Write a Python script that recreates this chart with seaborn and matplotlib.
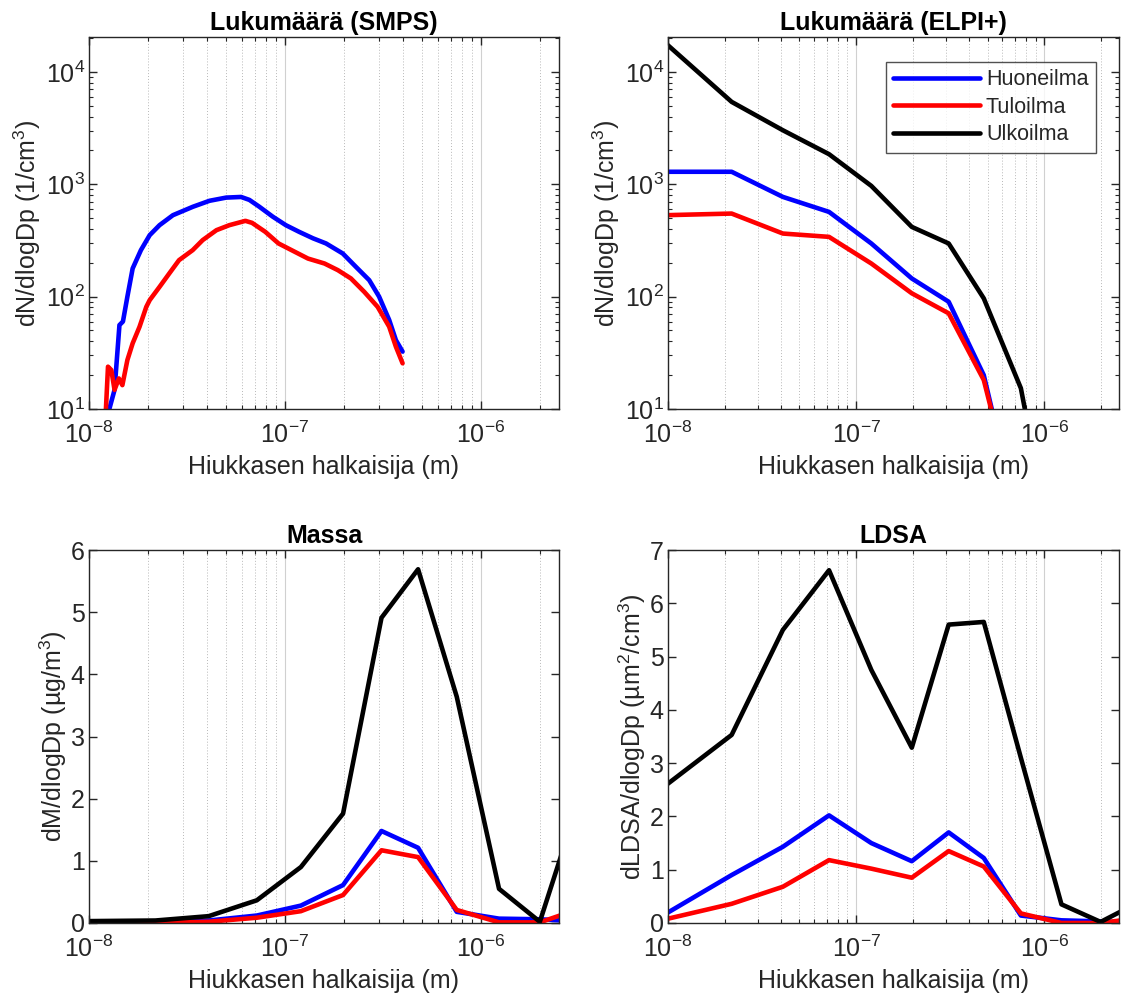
import numpy as np
import pandas as pd
import matplotlib
matplotlib.use("Agg")
import matplotlib.pyplot as plt
import seaborn as sns
from matplotlib.ticker import LogLocator, LogFormatterMathtext, NullFormatter

# ---------------- data ----------------
# SMPS (top-left), diameters in metres
smps_x_blue = [1.27e-8, 1.35e-8, 1.43e-8, 1.49e-8, 1.57e-8, 1.67e-8, 1.84e-8, 2.04e-8, 2.29e-8, 2.68e-8,
               3.39e-8, 4.12e-8, 5.01e-8, 5.97e-8, 6.58e-8, 7.40e-8, 8.65e-8, 1.01e-7, 1.18e-7, 1.39e-7,
               1.62e-7, 1.97e-7, 2.30e-7, 2.69e-7, 3.02e-7, 3.40e-7, 3.68e-7, 3.98e-7]
smps_y_blue = [10, 14.8, 55.8, 60, 100, 178, 259, 352, 432, 530,
               630, 712, 760, 770, 725, 630, 515, 432, 377, 330,
               297, 242, 184, 140, 100, 62, 41, 32.4]
smps_x_red = [1.22e-8, 1.25e-8, 1.30e-8, 1.35e-8, 1.42e-8, 1.48e-8, 1.57e-8, 1.67e-8, 1.81e-8, 1.96e-8,
              2.04e-8, 2.29e-8, 2.57e-8, 2.88e-8, 3.38e-8, 3.80e-8, 4.47e-8, 5.20e-8, 6.28e-8, 6.79e-8,
              7.93e-8, 9.27e-8, 1.08e-7, 1.31e-7, 1.59e-7, 1.86e-7, 2.17e-7, 2.54e-7, 2.97e-7, 3.40e-7,
              3.68e-7, 3.98e-7]
smps_y_red = [10, 23.8, 22.2, 14.8, 18.7, 16.3, 27.3, 38.4, 53.8, 81,
              93, 122, 161, 211, 259, 318, 390, 432, 472, 453,
              377, 297, 259, 218, 197, 172, 145, 110, 81, 54,
              35.8, 25.5]

# ELPI+ stage midpoints (m)
elpi_x = [9.7e-9, 2.18e-8, 4.08e-8, 7.18e-8, 1.205e-7, 1.978e-7, 3.107e-7, 4.775e-7,
          7.52e-7, 1.236e-6, 1.996e-6, 2.992e-6]

num_huone = [1290, 1290, 771, 567, 297, 145, 90, 20, 0.8, 0.3, 0.2, 0.2]
num_tulo = [530, 548, 364, 340, 197, 107, 71, 18.1, 0.9, 0.3, 0.2, 0.2]
num_ulko = [18000, 5400, 3020, 1850, 966, 417, 297, 96.4, 15.3, 0.2, 0.1, 0.1]

mass_huone = [0.0, 0.01, 0.04, 0.12, 0.28, 0.61, 1.48, 1.21, 0.18, 0.07, 0.06, 0.03]
mass_tulo = [0.0, 0.005, 0.02, 0.085, 0.19, 0.45, 1.17, 1.06, 0.21, 0.01, 0.01, 0.2]
mass_ulko = [0.03, 0.04, 0.11, 0.365, 0.9, 1.76, 4.91, 5.69, 3.64, 0.55, 0.02, 1.74]

ldsa_huone = [0.17, 0.9, 1.43, 2.02, 1.5, 1.16, 1.7, 1.22, 0.14, 0.05, 0.03, 0.0]
ldsa_tulo = [0.07, 0.36, 0.68, 1.18, 1.02, 0.85, 1.35, 1.06, 0.18, 0.0, 0.0, 0.08]
ldsa_ulko = [2.58, 3.53, 5.5, 6.62, 4.75, 3.29, 5.6, 5.65, 3.1, 0.35, 0.02, 0.34]

series_names = ["Huoneilma", "Tuloilma", "Ulkoilma"]
colors = ["#0000FF", "#FF0000", "#000000"]

titles = ["Lukumäärä (SMPS)", "Lukumäärä (ELPI+)", "Massa", "LDSA"]
xlabel = "Hiukkasen halkaisija (m)"
ylabels = ["dN/dlogDp (1/cm$^3$)", "dN/dlogDp (1/cm$^3$)",
           "dM/dlogDp (µg/m$^3$)", "dLDSA/dlogDp (µm$^2$/cm$^3$)"]

# ---------------- style ----------------
sns.set_style("ticks")
plt.rcParams['font.family'] = ['Liberation Sans', 'DejaVu Sans']
plt.rcParams['mathtext.fontset'] = 'custom'
plt.rcParams['mathtext.rm'] = 'Liberation Sans'
plt.rcParams['mathtext.it'] = 'Liberation Sans:italic'
plt.rcParams['mathtext.bf'] = 'Liberation Sans:bold'

fig = plt.figure(figsize=(11.44, 9.99), dpi=100)
W, H = 1144, 999
def add_ax(l, r, t, b):
    return fig.add_axes([l / W, 1 - b / H, (r - l) / W, (b - t) / H])

ax_tl = add_ax(89, 559, 37, 409)
ax_tr = add_ax(668, 1119, 37, 409)
ax_bl = add_ax(89, 559, 550, 923)
ax_br = add_ax(668, 1119, 550, 923)
axes = [ax_tl, ax_tr, ax_bl, ax_br]

LW = 3.3
TXT = "#262626"
FS = 18

for ax in axes:
    ax.set_xscale("log")
for ax in axes[:2]:
    ax.set_yscale("log")

# top-left SMPS
sns.lineplot(x=smps_x_blue, y=smps_y_blue, ax=ax_tl, color=colors[0], lw=LW, sort=False)
sns.lineplot(x=smps_x_red, y=smps_y_red, ax=ax_tl, color=colors[1], lw=LW, sort=False)

# other panels
panel_data = {
    ax_tr: [num_huone, num_tulo, num_ulko],
    ax_bl: [mass_huone, mass_tulo, mass_ulko],
    ax_br: [ldsa_huone, ldsa_tulo, ldsa_ulko],
}
for ax, ys in panel_data.items():
    for name, col, y in zip(series_names, colors, ys):
        sns.lineplot(x=elpi_x, y=y, ax=ax, color=col, lw=LW,
                     label=name if ax is ax_tr else None, sort=False)

for i, ax in enumerate(axes):
    ax.set_xlim(1e-8, 2.5e-6)
    ax.xaxis.set_major_locator(LogLocator(base=10, numticks=10))
    ax.xaxis.set_minor_locator(LogLocator(base=10, subs=np.arange(2, 10), numticks=20))
    ax.xaxis.set_major_formatter(LogFormatterMathtext())
    ax.xaxis.set_minor_formatter(NullFormatter())
    ax.grid(True, which="major", axis="x", color="#d0d0d0", lw=0.8, ls="-")
    ax.grid(True, which="minor", axis="x", color="#b8b8b8", lw=0.7, ls=(0, (1, 2)))
    ax.grid(False, axis="y", which="both")
    ax.tick_params(which="both", direction="in", top=True, right=True,
                   colors=TXT, labelcolor=TXT, labelsize=FS)
    ax.tick_params(axis="x", which="both", pad=9)
    ax.tick_params(axis="y", which="both", pad=3)
    ax.tick_params(which="major", length=6, width=1)
    ax.tick_params(which="minor", length=3, width=0.8)
    for s in ax.spines.values():
        s.set_color(TXT)
        s.set_linewidth(1.0)
    ax.set_title(titles[i], fontsize=FS, fontweight="bold", color="black", pad=5)
    ax.set_xlabel(xlabel, fontsize=FS, color=TXT, labelpad=5)
    ax.set_ylabel(ylabels[i], fontsize=FS, color=TXT, labelpad=1.5)
    ax.set_axisbelow(True)

for ax in axes[:2]:
    ax.set_ylim(10, 2.04e4)
    ax.yaxis.set_major_locator(LogLocator(base=10, numticks=10))
    ax.yaxis.set_minor_locator(LogLocator(base=10, subs=np.arange(2, 10), numticks=20))
    ax.yaxis.set_major_formatter(LogFormatterMathtext())
    ax.yaxis.set_minor_formatter(NullFormatter())

ax_bl.set_ylim(0, 6)
ax_bl.set_yticks([0, 1, 2, 3, 4, 5, 6])
ax_br.set_ylim(0, 7)
ax_br.set_yticks([0, 1, 2, 3, 4, 5, 6, 7])

leg = ax_tr.legend(loc="upper right", bbox_to_anchor=(0.949, 0.933), borderaxespad=0,
                   fontsize=15.5, frameon=True, fancybox=False, handlelength=4.0,
                   borderpad=0.35, labelspacing=0.3, handletextpad=0.3)
leg.get_frame().set_edgecolor(TXT)
leg.get_frame().set_linewidth(1.0)
for t in leg.get_texts():
    t.set_color(TXT)

fig.savefig("out.png", dpi=100, facecolor="white")
